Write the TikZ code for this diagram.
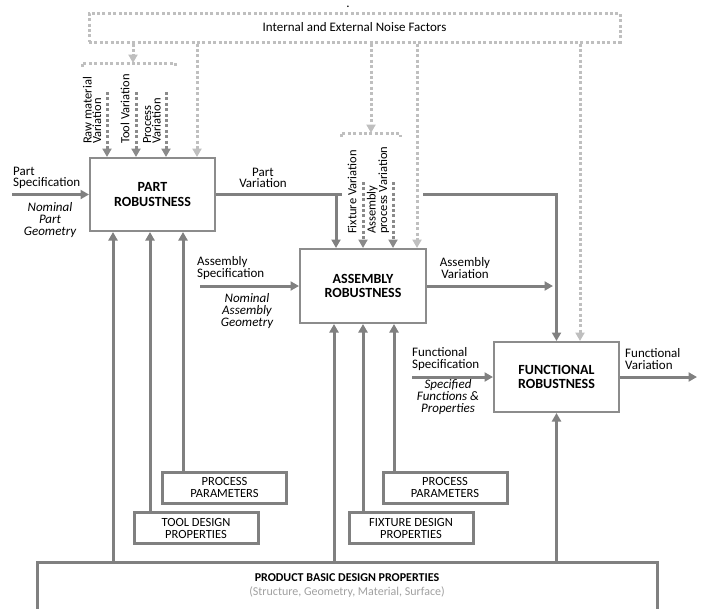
\documentclass[tikz,border=0pt]{standalone}
\usepackage{fontspec}
\setmainfont{Carlito}
\usepackage{xcolor}
\usetikzlibrary{arrows.meta, positioning, calc}

\definecolor{linegray}{HTML}{808080}
\definecolor{boxgray}{HTML}{8C8C8C}
\definecolor{noisegray}{HTML}{BFBFBF}
\definecolor{dotgray}{HTML}{8A8A8A}
\definecolor{subgray}{HTML}{A0A0A0}

\begin{document}
\begin{tikzpicture}[
    x=1pt, y=-1pt,
    robust/.style={rectangle, draw=boxgray, line width=2pt, fill=white, align=center, minimum width=125pt, minimum height=73pt, font=\fontsize{14}{14.5}\selectfont\bfseries},
    parambox/.style={rectangle, draw=linegray, line width=3pt, fill=white, align=center, minimum width=124pt, minimum height=31pt, font=\fontsize{12.5}{12}\selectfont},
    basebox/.style={rectangle, draw=linegray, line width=3pt, minimum width=620pt, minimum height=70pt},
    noisebox/.style={rectangle, draw=noisegray, line width=3pt, dash pattern=on 3pt off 2.4pt, minimum width=531pt, minimum height=29pt, font=\fontsize{13}{13}\selectfont},
    speclabel/.style={align=left, inner sep=1pt, font=\fontsize{13}{11.5}\selectfont},
    geomlabel/.style={align=center, inner sep=1pt, font=\fontsize{13}{12}\selectfont\itshape},
    varlabel/.style={rotate=90, anchor=west, align=left, inner sep=1pt, font=\fontsize{12.5}{9.5}\selectfont},
    flow/.style={-{Triangle[length=8.5pt,width=9pt]}, draw=linegray, line width=3pt},
    plain/.style={draw=linegray, line width=3pt},
    noise/.style={draw=noisegray, line width=3pt, dash pattern=on 3pt off 2.4pt},
    noiseflow/.style={noise, -{Triangle[length=8.5pt,width=9pt]}},
    srcflow/.style={draw=dotgray, line width=3pt, dash pattern=on 3pt off 2.4pt, -{Triangle[length=8.5pt,width=9pt]}}
]
\useasboundingbox (0,0) rectangle (703,608);
\clip (0,0) rectangle (703,608);

% Noise factors
\node[anchor=base, inner sep=0pt, font=\fontsize{13}{13}\selectfont] (topdot) at (348,7) {.};
\node[noisebox] (noise) at (354.5,27.5) {Internal and External Noise Factors};

% Robustness boxes
\node[robust] (part) at (152.5,194.5) {PART\\ROBUSTNESS};
\node[robust, minimum width=126pt, minimum height=74pt] (assembly) at (363,286) {ASSEMBLY\\ROBUSTNESS};
\node[robust, minimum height=70pt] (functional) at (556.5,377) {FUNCTIONAL\\ROBUSTNESS};

% Parameter boxes
\node[parambox] (procA) at (224.5,487.5) {PROCESS\\PARAMETERS};
\node[parambox] (toolA) at (196,528) {TOOL DESIGN\\PROPERTIES};
\node[parambox] (fixB) at (411,528) {FIXTURE DESIGN\\PROPERTIES};
\node[parambox] (procB) at (445,487.5) {PROCESS\\PARAMETERS};

% Product basic design properties
\node[basebox] (base) at (347,597) {};
\node[align=center, font=\fontsize{12}{14}\selectfont, below=10pt of base.north] (basetext) {\textbf{PRODUCT BASIC DESIGN PROPERTIES}\\{\color{subgray}(Structure, Geometry, Material, Surface)}};

% Flow labels
\node[speclabel, anchor=west] (partspec) at (12,178) {Part\\Specification};
\node[geomlabel] (partgeom) at (50,220) {Nominal\\Part\\Geometry};
\node[speclabel, align=center] (partvar) at (263,178) {Part\\Variation};
\node[speclabel, anchor=west] (asmspec) at (196,268) {Assembly\\Specification};
\node[geomlabel] (asmgeom) at (247,311) {Nominal\\Assembly\\Geometry};
\node[speclabel, align=center] (asmvar) at (465,268) {Assembly\\Variation};
\node[speclabel, anchor=west] (funspec) at (411,359) {Functional\\Specification};
\node[geomlabel] (fungeom) at (448,397) {Specified\\Functions \&\\Properties};
\node[speclabel, anchor=west] (funvar) at (624,359) {Functional\\Variation};

% Variation sources
\node[varlabel] (rawvar) at (92,145) {Raw material\\Variation};
\node[varlabel] (toolvar) at (125,145) {Tool Variation};
\node[varlabel] (procvar) at (152,145) {Process\\Variation};
\node[varlabel] (fixvar) at (352,235) {Fixture Variation};
\node[varlabel] (asmprocvar) at (378,235) {Assembly\\process Variation};

% Noise drops
\coordinate (nPart) at (197,0);
\coordinate (nAsm) at (417,0);
\coordinate (nFun) at (580,0);
\draw[noiseflow] (noise.south -| nPart) -- (part.north -| nPart);
\draw[noiseflow] (noise.south -| nAsm) -- (assembly.north -| nAsm);
\draw[noiseflow] (noise.south -| nFun) -- (functional.north -| nFun);

% Brackets
\coordinate (brPL) at (82,63); \coordinate (brPR) at (175,63); \coordinate (brP) at (133,63);
\draw[noise] ($(brPL)+(0,4)$) -- (brPL) -- (brPR) -- ($(brPR)+(0,4)$);
\draw[noiseflow] (noise.south -| brP) -- (brP);
\coordinate (brAL) at (341,133); \coordinate (brAR) at (400,133); \coordinate (brA) at (371,133);
\draw[noise] ($(brAL)+(0,4)$) -- (brAL) -- (brAR) -- ($(brAR)+(0,4)$);
\draw[noiseflow] (noise.south -| brA) -- (brA);

% Source arrows
\coordinate (rawtop) at (107,92);
\coordinate (tooltop) at (136,92);
\coordinate (proctop) at (166,92);
\coordinate (fixtop) at (363,182);
\coordinate (asmproctop) at (393,182);
\draw[srcflow] (rawtop) -- (rawtop |- part.north);
\draw[srcflow] (tooltop) -- (tooltop |- part.north);
\draw[srcflow] (proctop) -- (proctop |- part.north);
\draw[srcflow] (fixtop) -- (fixtop |- assembly.north);
\draw[srcflow] (asmproctop) -- (asmproctop |- assembly.north);

% Specifications and variations
\coordinate (partspecin) at (12,194.5);
\coordinate (pvturn) at (336,194.5);
\coordinate (pvend) at (342,194.5);
\coordinate (pvresume) at (423,194.5);
\coordinate (asmspecin) at (200,286);
\coordinate (avend) at (553,286);
\coordinate (funspecin) at (412,377);
\coordinate (fvend) at (697,377);
\draw[flow] (partspecin) -- (part.west);
\draw[plain] (part.east) -- (pvend);
\draw[flow] (pvturn) -- (pvturn |- assembly.north);
\draw[flow] (pvresume) -| (functional.north);
\draw[flow] (asmspecin) -- (assembly.west);
\draw[flow] (assembly.east) -- (avend);
\draw[flow] (funspecin) -- (functional.west);
\draw[flow] (functional.east) -- (fvend);

% Design properties up
\coordinate (pA) at (113,0); \coordinate (pB) at (150,0); \coordinate (pC) at (183,0);
\coordinate (aA) at (334,0); \coordinate (aB) at (363,0); \coordinate (aC) at (394,0);
\draw[flow] (base.north -| pA) -- (part.south -| pA);
\draw[flow] (toolA.north -| pB) -- (part.south -| pB);
\draw[flow] (procA.north -| pC) -- (part.south -| pC);
\draw[flow] (base.north -| aA) -- (assembly.south -| aA);
\draw[flow] (fixB.north -| aB) -- (assembly.south -| aB);
\draw[flow] (procB.north -| aC) -- (assembly.south -| aC);
\draw[flow] (base.north -| functional.south) -- (functional.south);

\end{tikzpicture}
\end{document}
